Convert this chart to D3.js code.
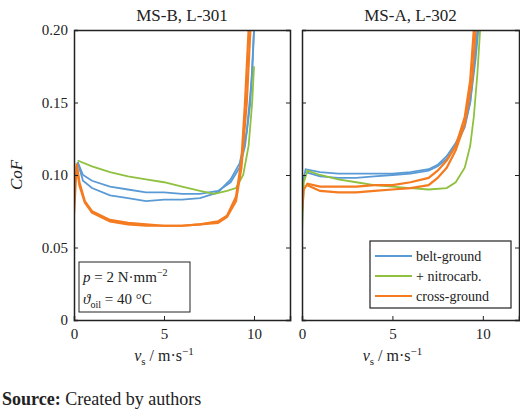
<!DOCTYPE html>
<html><head><meta charset="utf-8">
<script src="https://cdn.jsdelivr.net/npm/d3@7"></script>
<style>body{margin:0;background:#fff}text{font-family:"Liberation Serif","Times New Roman",serif;fill:#222}</style>
</head><body><svg width="520" height="414"></svg>
<script>
const titles = ["MS-B, L-301", "MS-A, L-302"];
const seriesNames = ["belt-ground", "+ nitrocarb.", "cross-ground"];
const colors = ["#5b9bd5", "#8fc13e", "#f47b20"];
const yTicks = [0, 0.05, 0.10, 0.15, 0.20];
const xTicks = [0, 5, 10];

// left panel curves [v, CoF], series index 0 blue, 1 green, 2 orange
const leftCurves = [
  {s: 0, pts: [[0.2,0.109],[0.5,0.100],[1,0.096],[2,0.092],[3,0.090],[4,0.088],[5,0.088],[6,0.087],[7,0.087],[8,0.089],[8.7,0.095],[9.2,0.105],[9.5,0.12],[9.8,0.15],[10,0.2]]},
  {s: 0, pts: [[0.2,0.109],[0.5,0.096],[1,0.091],[2,0.086],[3,0.084],[4,0.082],[5,0.083],[6,0.083],[7,0.084],[8,0.088],[8.7,0.097],[9.2,0.108],[9.6,0.13],[9.9,0.17],[10,0.2]]},
  {s: 1, pts: [[0.2,0.110],[1,0.106],[2,0.102],[3,0.099],[4,0.097],[5,0.095],[6,0.092],[7,0.089],[7.8,0.087],[8.5,0.089],[9,0.091],[9.4,0.1],[9.7,0.12],[9.9,0.15],[10,0.175]]},
  {s: 2, pts: [[0,0.073],[0.15,0.108],[0.3,0.095],[0.6,0.082],[1,0.075],[2,0.069],[3,0.067],[4,0.066],[5,0.065],[6,0.065],[7,0.066],[8,0.068],[8.5,0.072],[9,0.085],[9.3,0.11],[9.5,0.15],[9.7,0.2]]},
  {s: 2, pts: [[0.15,0.106],[0.3,0.093],[0.6,0.081],[1,0.074],[2,0.068],[3,0.066],[4,0.065],[5,0.065],[6,0.065],[7,0.066],[8,0.067],[8.5,0.071],[9,0.082],[9.3,0.105],[9.6,0.15],[9.8,0.2]]}
];
const rightCurves = [
  {s: 0, pts: [[0.05,0.095],[0.2,0.104],[1,0.102],[2,0.101],[3,0.101],[4,0.101],[5,0.101],[6,0.102],[7,0.104],[7.5,0.107],[8,0.113],[8.5,0.122],[9,0.135],[9.3,0.15],[9.5,0.175],[9.7,0.2]]},
  {s: 0, pts: [[0.2,0.102],[1,0.099],[2,0.098],[3,0.098],[4,0.099],[5,0.100],[6,0.101],[7,0.103],[7.5,0.106],[8,0.111],[8.5,0.12],[9,0.133],[9.3,0.15],[9.6,0.18],[9.75,0.2]]},
  {s: 1, pts: [[0,0.060],[0.1,0.095],[0.3,0.103],[1,0.1],[2,0.097],[3,0.095],[4,0.093],[5,0.092],[6,0.091],[7,0.090],[8,0.091],[8.5,0.095],[9,0.105],[9.3,0.12],[9.5,0.14],[9.7,0.17],[9.85,0.2]]},
  {s: 2, pts: [[0,0.075],[0.1,0.09],[0.3,0.094],[1,0.092],[2,0.092],[3,0.092],[4,0.093],[5,0.093],[6,0.095],[7,0.098],[7.5,0.103],[8,0.11],[8.5,0.12],[9,0.14],[9.3,0.165],[9.5,0.2]]},
  {s: 2, pts: [[0.3,0.093],[1,0.089],[2,0.088],[3,0.088],[4,0.089],[5,0.090],[6,0.091],[7,0.093],[7.5,0.098],[8,0.105],[8.5,0.117],[9,0.135],[9.4,0.165],[9.6,0.2]]}
];

const svg = d3.select("svg");
const yTop = 30, yBottom = 320;
const panels = [{x0: 74, x1: 290, curves: leftCurves}, {x0: 302, x1: 519, curves: rightCurves}];
const y = d3.scaleLinear().domain([0, 0.2]).range([yBottom, yTop]);

panels.forEach((p, i) => {
  const x = d3.scaleLinear().domain([0, 12]).range([p.x0, p.x1]);
  const g = svg.append("g");
  const clipId = "clip" + i;
  svg.append("clipPath").attr("id", clipId).append("rect")
    .attr("x", p.x0).attr("y", yTop).attr("width", p.x1 - p.x0).attr("height", yBottom - yTop);
  const line = d3.line().x(d => x(d[0])).y(d => y(d[1]));
  g.append("g").attr("clip-path", `url(#${clipId})`).selectAll("path").data(p.curves).enter().append("path")
    .attr("d", d => line(d.pts)).attr("fill", "none")
    .attr("stroke", d => colors[d.s]).attr("stroke-width", d => d.s == 2 ? 2.2 : 1.8);

  const ax = g.append("g").attr("transform", `translate(0,${yBottom})`)
    .call(d3.axisBottom(x).tickValues(xTicks).tickSize(-4).tickPadding(8));
  const ay = g.append("g").attr("transform", `translate(${p.x0},0)`)
    .call(d3.axisLeft(y).tickValues(yTicks).tickSize(-4).tickPadding(6)
      .tickFormat(d => d == 0 ? "0" : d3.format(".2f")(d)));
  const ay2 = g.append("g").attr("transform", `translate(${p.x1},0)`)
    .call(d3.axisRight(y).tickValues(yTicks).tickSize(-4).tickFormat(""));
  const at = g.append("g").attr("transform", `translate(0,${yTop})`)
    .call(d3.axisTop(x).tickValues([]).tickSize(0));
  [ax, ay, ay2, at].forEach(a => {
    a.select(".domain").attr("stroke", "#222").attr("stroke-width", 1.5);
    a.selectAll("line").attr("stroke", "#222");
    a.selectAll("text").style("font-size", "15px").attr("fill", "#222");
  });
  if (i == 1) ay.selectAll("text").remove();

  g.append("text").attr("x", (p.x0 + p.x1) / 2).attr("y", 21).attr("text-anchor", "middle")
    .style("font-size", "17px").text(titles[i]);
  const xl = g.append("text").attr("x", x(5)).attr("y", 361).attr("text-anchor", "middle").style("font-size", "16px");
  xl.append("tspan").attr("font-style", "italic").text("v");
  xl.append("tspan").attr("dy", 4).style("font-size", "11px").text("s");
  xl.append("tspan").attr("dy", -4).text(" / m·s");
  xl.append("tspan").attr("dy", -6).style("font-size", "11px").text("−1");
});

// y label
svg.append("text").attr("transform", `translate(22,${(yTop + yBottom) / 2}) rotate(-90)`)
  .attr("text-anchor", "middle").style("font-size", "17px").attr("font-style", "italic").text("CoF");

// annotation box
svg.append("rect").attr("x", 79).attr("y", 262).attr("width", 111).attr("height", 50)
  .attr("fill", "#fff").attr("stroke", "#222").attr("stroke-width", 1);
const t1 = svg.append("text").attr("x", 83).attr("y", 282).style("font-size", "15px");
t1.append("tspan").attr("font-style", "italic").text("p");
t1.append("tspan").text(" = 2 N·mm");
t1.append("tspan").attr("dy", -6).style("font-size", "10px").text("−2");
const t2 = svg.append("text").attr("x", 83).attr("y", 304).style("font-size", "15px");
t2.append("tspan").attr("font-style", "italic").text("ϑ");
t2.append("tspan").attr("dy", 4).style("font-size", "10px").text("oil");
t2.append("tspan").attr("dy", -4).text(" = 40 °C");

// legend
svg.append("rect").attr("x", 370).attr("y", 241).attr("width", 141).attr("height", 67)
  .attr("fill", "#fff").attr("stroke", "#222").attr("stroke-width", 1.2);
seriesNames.forEach((n, k) => {
  const yy = 256 + k * 20;
  svg.append("line").attr("x1", 375).attr("x2", 412).attr("y1", yy).attr("y2", yy)
    .attr("stroke", colors[k]).attr("stroke-width", 2);
  svg.append("text").attr("x", 416).attr("y", yy + 5).style("font-size", "14px").text(n);
});

const src = svg.append("text").attr("x", 2).attr("y", 405).style("font-size", "18px");
src.append("tspan").attr("font-weight", "bold").text("Source:");
src.append("tspan").text(" Created by authors");
</script></body></html>
